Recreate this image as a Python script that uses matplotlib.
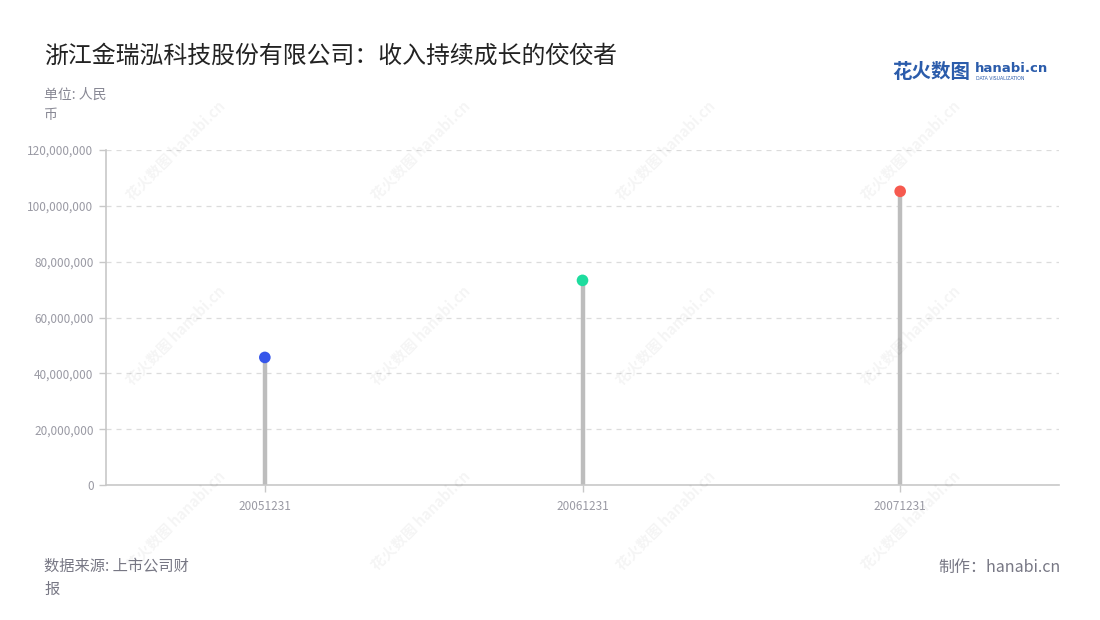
import matplotlib.pyplot as plt
from matplotlib.ticker import FuncFormatter

plt.rcParams['font.family'] = ['Noto Sans CJK SC', 'DejaVu Sans']

# data
periods = ['20051231', '20061231', '20071231']
revenue = [45700000, 73300000, 105200000]
dot_colors = ['#3656ea', '#1ddc9e', '#f65a4f']

fig = plt.figure(figsize=(11, 6.2), dpi=100)
ax = fig.add_axes([106 / 1100, (620 - 485) / 620, (1059 - 106) / 1100, 335 / 620])

x = list(range(len(periods)))
ax.vlines(x, 0, revenue, color='#bdbdbd', linewidth=3.2, zorder=2)
ax.scatter(x, revenue, s=70, c=dot_colors, zorder=3, edgecolors='none')

ax.set_xlim(-0.5, len(periods) - 0.5)
ax.set_ylim(0, 120000000)
ax.set_yticks(range(0, 120000001, 20000000))
ax.yaxis.set_major_formatter(FuncFormatter(lambda v, p: f'{int(v):,}'))
ax.set_xticks(x)
ax.set_xticklabels(periods)
ax.tick_params(axis='both', colors='#c8c8c8', labelcolor='#9a9aa4', labelsize=8.5, length=5, width=1)
ax.tick_params(axis='y', pad=4)
ax.tick_params(axis='x', pad=6)
ax.grid(axis='y', color='#dcdcdc', linestyle=(0, (4, 4)), linewidth=0.9)
ax.set_axisbelow(True)
for side in ['top', 'right']:
    ax.spines[side].set_visible(False)
for side in ['left', 'bottom']:
    ax.spines[side].set_color('#c8c8c8')
    ax.spines[side].set_linewidth(1.2)

# watermarks
for wx in [175, 420, 665, 910]:
    for wy in [150, 335, 520]:
        fig.text(wx / 1100, 1 - wy / 620, '花火数图 hanabi.cn', rotation=45, fontsize=10.5,
                 color='#000000', alpha=0.045, ha='center', va='center', fontweight='bold')

# titles and notes
fig.text(44 / 1100, 1 - 56 / 620, '浙江金瑞泓科技股份有限公司：收入持续成长的佼佼者',
         fontsize=17.2, color='#222222', va='center')
fig.text(44 / 1100, 1 - 105 / 620, '单位: 人民\n币', fontsize=10, color='#888894',
         va='center', linespacing=1.5)
fig.text(44 / 1100, 1 - 578 / 620, '数据来源: 上市公司财\n报', fontsize=11, color='#777784',
         va='center', linespacing=1.5)
fig.text(1061 / 1100, 1 - 567 / 620, '制作：hanabi.cn', fontsize=11.5, color='#777784',
         va='center', ha='right')

# logo
fig.text(892 / 1100, 1 - 72 / 620, '花火数图', fontsize=14, color='#2b5cab',
         fontweight='bold', va='center')
fig.text(975 / 1100, 1 - 69 / 620, 'hanabi.cn', fontsize=9.5, color='#2b5cab',
         fontweight='bold', va='center', family='DejaVu Sans')
fig.text(976 / 1100, 1 - 79 / 620, 'DATA VISUALIZATION', fontsize=3.3, color='#2b5cab',
         va='center', family='DejaVu Sans')

fig.savefig('out.png', dpi=100, facecolor='white')
